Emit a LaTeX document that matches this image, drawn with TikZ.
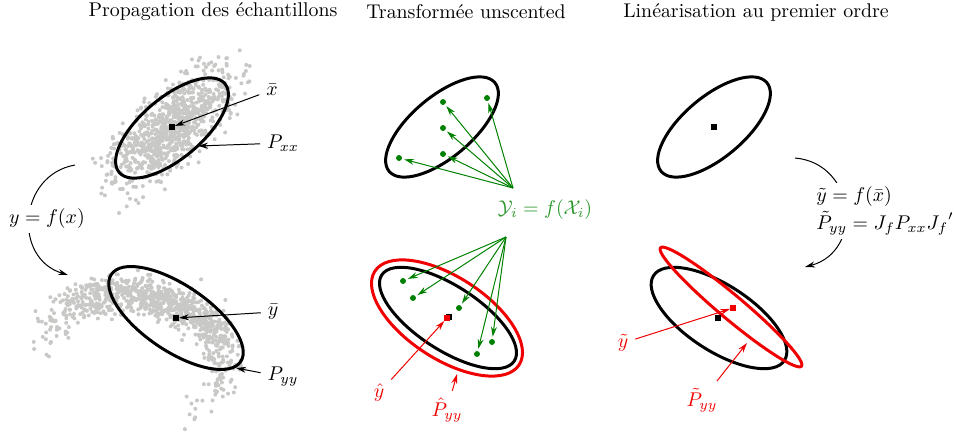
\documentclass[tikz,border=0pt]{standalone}
\usepackage{tikz}
\usetikzlibrary{arrows.meta, positioning}
\usepackage{amsmath}
\usepackage{amssymb}
\definecolor{cloud}{RGB}{200,200,198}
\definecolor{sigpt}{RGB}{0,128,0}
\definecolor{sigtxt}{RGB}{40,150,40}
\definecolor{estim}{RGB}{240,0,0}

\begin{document}
\begin{tikzpicture}[x=0.0177cm, y=0.0177cm,
    contour/.style={line width=1.5pt},
    ptr/.style={-{Stealth[length=5pt,width=3pt]}, line width=0.5pt},
    sigline/.style={-{Stealth[length=5pt,width=3pt]}, sigpt, line width=0.5pt, shorten >=1pt},
    sigdot/.style={circle, fill=sigpt, inner sep=0pt, minimum size=0.105cm},
    meanmark/.style={rectangle, fill=black, inner sep=0pt, minimum size=0.09cm}]
  \useasboundingbox (0,0) rectangle (967,-432);

  % titres
  \node (t1) at (213,-12) {Propagation des échantillons};
  \node (t2) at (466,-12) {Transformée unscented};
  \node (t3) at (756,-12) {Linéarisation au premier ordre};

  % nuages de points
  \pgfmathsetseed{7}
  \foreach \i in {1,...,900}{
    \pgfmathsetmacro\s{rand+rand+rand}
    \pgfmathsetmacro\t{rand+rand+rand}
    \pgfmathsetmacro\w{rand+rand+rand}
    \fill[cloud] ({172+38*(\s)*cos(42)-16*(\t)*sin(42)}, {-128+38*(\s)*sin(42)+16*(\t)*cos(42)}) circle[radius=2];
    \pgfmathsetmacro\u{max(-1.1,min(1.05,(\s)/2.4))}
    \fill[cloud] ({163+152*(\u)-40*(\u)*(\u)-78*(\u)*(\u)*(\u)+9*(\t)},
                  {-(300+44*(\u)+77.5*(\u)*(\u)-11.6*(\u)*(\u)*(\u))+10*(\w)}) circle[radius=2];
  }

  % ellipses
  \draw[contour, shift={(172,-128)}, rotate=40] (0,0) ellipse[x radius=69, y radius=30.5];
  \draw[contour, shift={(176,-318)}, rotate=-34] (0,0) ellipse[x radius=78, y radius=33];
  \draw[contour, shift={(442,-127)}, rotate=40] (0,0) ellipse[x radius=69, y radius=30.5];
  \draw[contour, estim, shift={(447,-318)}, rotate=-33] (0,0) ellipse[x radius=86, y radius=41];
  \draw[contour, shift={(448,-318)}, rotate=-33] (0,0) ellipse[x radius=79, y radius=32];
  \draw[contour, shift={(714,-127)}, rotate=40] (0,0) ellipse[x radius=69, y radius=30.5];
  \draw[contour, shift={(719,-318)}, rotate=-33] (0,0) ellipse[x radius=78, y radius=33];
  \draw[contour, estim, shift={(731,-307)}, rotate=-40] (0,0) ellipse[x radius=92, y radius=12];

  % moyennes
  \node[meanmark] (mx1) at (172,-127) {};
  \node[meanmark] (my1) at (176,-318) {};
  \node[meanmark] (my2) at (449,-317) {};
  \node[meanmark, fill=estim] (myhat) at (447,-318) {};
  \node[meanmark] (mx3) at (714,-127) {};
  \node[meanmark] (my3) at (718,-318) {};
  \node[meanmark, fill=estim] (mytil) at (733,-308) {};

  % panneau 1
  \node (lxbar) at (272,-90) {$\bar{x}$};
  \node (lPxx) at (283,-143) {$P_{xx}$};
  \node (lybar) at (273,-312) {$\bar{y}$};
  \node (lPyy) at (283,-377) {$P_{yy}$};
  \coordinate (pxxend) at (198,-146);
  \coordinate (pyyend) at (236,-368);
  \draw[ptr] (lxbar) -- (mx1);
  \draw[ptr] (lPxx) -- (pxxend);
  \draw[ptr] (lybar) -- (my1);
  \draw[ptr] (lPyy) -- (pyyend);
  \coordinate (c1a) at (75,-165);
  \coordinate (c1b) at (68,-275);
  \draw[ptr] (c1a) to[out=190, in=163, looseness=1.34] (c1b);
  \node[fill=white, inner sep=2pt] (lf1) at (47,-219) {$y = f(x)$};

  % panneau 2 : points sigma
  \node[sigdot] (sx0) at (443,-128) {};
  \node[sigdot] (sx1) at (443,-102) {};
  \node[sigdot] (sx2) at (487,-98) {};
  \node[sigdot] (sx3) at (399,-158) {};
  \node[sigdot] (sx4) at (443,-154) {};
  \node[sigdot] (sy0) at (403,-281) {};
  \node[sigdot] (sy1) at (413,-298) {};
  \node[sigdot] (sy2) at (459,-308) {};
  \node[sigdot] (sy3) at (492,-342) {};
  \node[sigdot] (sy4) at (477,-354) {};
  \node[text=sigtxt] (lsig) at (545,-210) {$\mathcal{Y}_i = f(\mathcal{X}_i)$};
  \coordinate (sgTop) at (513,-188);
  \coordinate (sgBot) at (506,-237);
  \foreach \p in {sx0, sx1, sx2, sx3, sx4}
    \draw[sigline] (sgTop) -- (\p);
  \foreach \p in {sy0, sy1, sy2, sy3, sy4}
    \draw[sigline] (sgBot) -- (\p);
  \node[text=estim] (lyhat) at (379,-393) {$\hat{y}$};
  \node[text=estim] (lPhat) at (447,-410) {$\hat{P}_{yy}$};
  \coordinate (phatend) at (457,-374);
  \draw[ptr, estim] (lyhat) -- (myhat);
  \draw[ptr, estim] (lPhat) -- (phatend);

  % panneau 3
  \coordinate (c3a) at (795,-158);
  \coordinate (c3b) at (805,-267);
  \draw[ptr] (c3a) to[out=-5, in=15, looseness=1.43] (c3b);
  \node[fill=white, align=left, anchor=west, inner sep=2pt] (llin) at (812,-211)
    {$\tilde{y} = f(\bar{x})$\\[2pt] $\tilde{P}_{yy} = J_f P_{xx} {J_f}'$};
  \node[text=estim] (lytil) at (623,-343) {$\tilde{y}$};
  \node[text=estim] (lPtil) at (702,-400) {$\tilde{P}_{yy}$};
  \coordinate (ptilend) at (747,-343);
  \draw[ptr, estim] (lytil) -- (mytil);
  \draw[ptr, estim] (lPtil) -- (ptilend);
\end{tikzpicture}
\end{document}
